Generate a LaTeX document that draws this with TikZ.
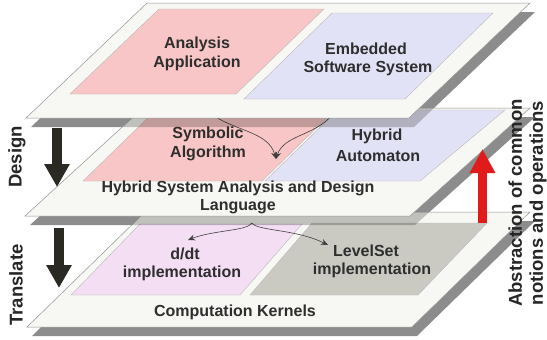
\documentclass[tikz,border=0pt]{standalone}
\usepackage{fontspec}
\setmainfont{Liberation Sans}
\usetikzlibrary{arrows.meta}
\definecolor{planefill}{HTML}{F7F7F3}
\definecolor{planeedge}{HTML}{939393}
\definecolor{shadowc}{HTML}{8C8C8C}
\definecolor{pinkc}{HTML}{F8C6C6}
\definecolor{lavc}{HTML}{E2E2F6}
\definecolor{lilacc}{HTML}{F3DEF3}
\definecolor{grayc}{HTML}{CACAC3}
\definecolor{txt}{HTML}{2E2E2E}
\definecolor{arrc}{HTML}{2A2A22}
\definecolor{redc}{HTML}{E11B1B}
\begin{document}
\begin{tikzpicture}[x=1pt,y=-1pt,
  plane/.style={fill=planefill,draw=planeedge,line width=0.5pt},
  region/.style={draw=gray!55,line width=0.4pt},
  shadowdark/.style={fill=shadowc},
  shadowlight/.style={fill=black,fill opacity=0.22},
  lbl/.style={font=\fontsize{16}{19}\selectfont\bfseries,text=txt,align=center,inner sep=0pt},
  side/.style={font=\fontsize{18.5}{21}\selectfont\bfseries,text=black!85,align=center,inner sep=0pt,rotate=90},
  flow/.style={draw=black!75,line width=0.6pt,-{Stealth[length=7pt,width=6pt]}},
  bigarrow/.style={draw=arrc,line width=10pt,-{Triangle[length=23pt,width=24pt]}},
  redarrow/.style={draw=redc,line width=9pt,-{Triangle[length=24pt,width=24pt]}},
]
\useasboundingbox[fill=white] (0,0) rectangle (547,340);
% dark shadows over the background
\begin{scope}[shift={(5,9)}]
 \fill[shadowdark] (26,118) -- (147,3) -- (530,3) -- (409,118) -- cycle;
 \fill[shadowdark] (25,216) -- (143,108) -- (530,108) -- (410,216) -- cycle;
 \fill[shadowdark] (27,327) -- (145,212) -- (530,212) -- (412,327) -- cycle;
\end{scope}
% ---------- plane 3 ----------
\filldraw[plane] (27,327) -- (145,212) -- (530,212) -- (412,327) -- cycle;
\filldraw[region,fill=lilacc] (71,295) -- (140,224) -- (302,224) -- (240,295) -- cycle;
\filldraw[region,fill=grayc] (250,295) -- (312,223) -- (487,223) -- (418,295) -- cycle;
\node[lbl] (ddt) at (185,254) {d/dt};
\node[lbl] (ddti) at (182,273) {implementation};
\node[lbl] (lset) at (366,251) {LevelSet};
\node[lbl] (lseti) at (372,270) {implementation};
\node[lbl] (kern) at (235,312) {Computation Kernels};
\coordinate (j) at (252,223);
\coordinate (ddtend) at (188,240);
\coordinate (lsend) at (328,245);
\draw[flow] (j) .. controls (247,231) and (214,230) .. (ddtend);
\draw[flow] (j) .. controls (257,231) and (296,229) .. (lsend);
\begin{scope}
 \clip (27,327) -- (145,212) -- (530,212) -- (412,327) -- cycle;
 \fill[shadowlight,shift={(5,9)}] (25,216) -- (143,108) -- (530,108) -- (410,216) -- cycle;
\end{scope}
% ---------- plane 2 ----------
\filldraw[plane] (25,216) -- (143,108) -- (530,108) -- (410,216) -- cycle;
\filldraw[region,fill=pinkc] (83,181) -- (156,110) -- (335,110) -- (262,181) -- cycle;
\filldraw[region,fill=lavc] (265,181) -- (338,110) -- (505,110) -- (420,181) -- cycle;
\node[lbl] (sym) at (208,134) {Symbolic};
\node[lbl] (alg) at (208,153) {Algorithm};
\node[lbl] (hyb) at (377,136) {Hybrid};
\node[lbl] (aut) at (378,156) {Automaton};
\node[lbl] (lang1) at (238,188) {Hybrid System Analysis and Design};
\node[lbl] (lang2) at (238,207) {Language};
\coordinate (s1) at (206,110);
\coordinate (s2) at (334,112);
\coordinate (t) at (276,159);
\draw[flow] (s1) .. controls (232,132) and (268,130) .. (t);
\draw[flow] (s2) .. controls (318,136) and (284,134) .. (t);
\begin{scope}
 \clip (25,216) -- (143,108) -- (530,108) -- (410,216) -- cycle;
 \fill[shadowlight,shift={(5,9)}] (26,118) -- (147,3) -- (530,3) -- (409,118) -- cycle;
\end{scope}
% ---------- plane 1 ----------
\filldraw[plane] (26,118) -- (147,3) -- (530,3) -- (409,118) -- cycle;
\filldraw[region,fill=pinkc] (70,94) -- (159,9) -- (324,9) -- (236,94) -- cycle;
\filldraw[region,fill=lavc] (244,99) -- (332,13) -- (493,13) -- (405,99) -- cycle;
\node[lbl] (ana) at (197,44) {Analysis};
\node[lbl] (app) at (197,63) {Application};
\node[lbl] (emb) at (366,49) {Embedded};
\node[lbl] (sw) at (368,68) {Software System};
% ---------- big arrows ----------
\coordinate (d1) at (57,128);
\coordinate (d2) at (57,187);
\coordinate (t1) at (59,228);
\coordinate (t2) at (59,288);
\coordinate (r1) at (482.5,223);
\coordinate (r2) at (482.5,149);
\draw[bigarrow] (d1) -- (d2);
\draw[bigarrow] (t1) -- (t2);
\draw[redarrow] (r1) -- (r2);
% ---------- side labels ----------
\node[side] (design) at (17,157) {Design};
\node[side] (translate) at (16,285) {Translate};
\node[side] (abs) at (527.5,203) {Abstraction of common\\notions and operations};
\end{tikzpicture}
\end{document}
